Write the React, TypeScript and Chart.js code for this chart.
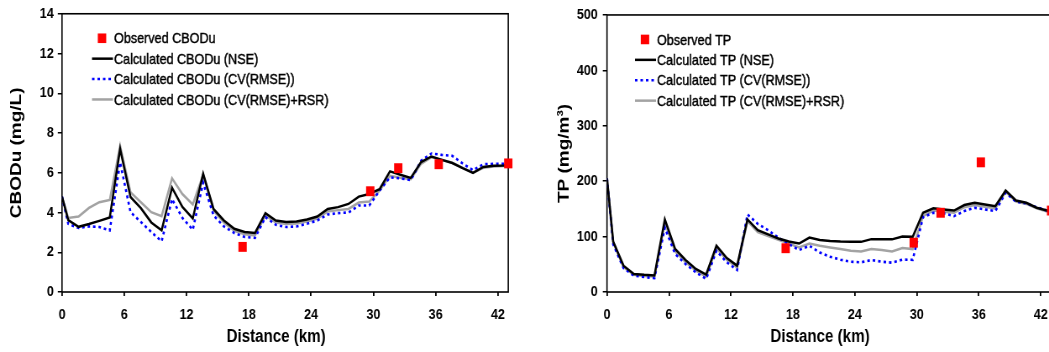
import React, { useEffect, useRef } from 'react';
import { Chart, registerables } from 'chart.js';
Chart.register(...registerables);

// Model node positions along the river (km)
const kmNodes = [0, 0.6, 1.6, 2.6, 3.6, 4.6, 5.6, 6.6, 7.6, 8.6, 9.6, 10.6, 11.6, 12.6, 13.6, 14.6, 15.6, 16.6, 17.6, 18.6, 19.6, 20.6, 21.6, 22.6, 23.6, 24.6, 25.6, 26.6, 27.6, 28.6, 29.6, 30.6, 31.6, 32.6, 33.6, 34.6, 35.6, 36.6, 37.6, 38.6, 39.6, 40.6, 41.6, 42.6, 43.0];
const xTicks = [0, 6, 12, 18, 24, 30, 36, 42];
const xTitle = 'Distance (km)';

// CBODu (mg/L)
const cbodNSE = [4.8, 3.62, 3.28, 3.42, 3.58, 3.75, 7.2, 4.78, 4.22, 3.5, 3.1, 5.25, 4.28, 3.7, 5.95, 4.18, 3.6, 3.18, 3.02, 2.97, 3.97, 3.6, 3.52, 3.55, 3.65, 3.8, 4.18, 4.27, 4.43, 4.8, 4.93, 5.17, 6.07, 5.9, 5.74, 6.54, 6.82, 6.65, 6.49, 6.23, 5.99, 6.29, 6.35, 6.36, 6.38];
const cbodCV = [4.8, 3.43, 3.22, 3.3, 3.27, 3.1, 6.52, 4.02, 3.52, 3.02, 2.55, 4.68, 3.73, 3.13, 5.5, 3.85, 3.3, 2.97, 2.77, 2.72, 3.77, 3.38, 3.27, 3.3, 3.43, 3.6, 3.9, 3.97, 4.0, 4.35, 4.35, 5.1, 5.77, 5.72, 5.63, 6.6, 6.97, 6.9, 6.85, 6.47, 6.13, 6.43, 6.45, 6.45, 6.45];
const cbodCVRSR = [4.8, 3.73, 3.8, 4.23, 4.52, 4.63, 7.35, 5.02, 4.52, 4.02, 3.82, 5.72, 4.93, 4.4, 5.9, 4.1, 3.5, 3.08, 2.9, 2.85, 3.85, 3.5, 3.42, 3.45, 3.55, 3.7, 4.05, 4.12, 4.18, 4.5, 4.55, 5.1, 5.85, 5.75, 5.68, 6.45, 6.78, 6.65, 6.5, 6.25, 6.0, 6.25, 6.32, 6.34, 6.35];
const cbodObsKm = [17.4, 29.7, 32.4, 36.3, 43.0];
const cbodObs = [2.27, 5.07, 6.23, 6.43, 6.47];
const cbodYTicks = [0, 2, 4, 6, 8, 10, 12, 14];

// TP (mg/m3)
const tpNSE = [205, 91, 47.5, 32.6, 31, 30, 131, 77.5, 57.7, 41.6, 31.4, 83.4, 61.3, 47.5, 131, 111.5, 104, 96.5, 91, 87.5, 98.3, 94, 92, 91, 90.5, 90.5, 95.4, 95, 95, 100, 99.5, 143, 151, 149, 147, 157, 161, 158, 155, 183, 165, 161, 152, 147, 145];
const tpCV = [205, 86, 43, 29.6, 27, 25, 116, 68.5, 50.6, 35.5, 23.7, 74.4, 53.5, 39.8, 140, 123, 111.5, 98, 86.5, 75.7, 83.4, 71.4, 63.7, 58.3, 54.7, 53.5, 57.7, 54.7, 53, 58.5, 58, 135, 143, 142, 137, 146, 152, 149, 146, 179, 163, 160, 153, 147, 145];
const tpCVRSR = [205, 89, 45, 31, 29, 28, 125, 73, 54, 38.5, 28, 79, 58, 44, 128, 108, 101, 94, 87.5, 80.4, 87.5, 83.4, 80.4, 77.5, 74.4, 73, 77.5, 76, 73, 79.5, 77.5, 137, 147, 145, 143, 153, 157, 154, 151, 181, 163, 159, 151, 145, 143];
const tpObsKm = [17.3, 29.7, 32.3, 36.2, 43.0];
const tpObs = [79, 89, 143, 234, 147];
const tpYTicks = [0, 100, 200, 300, 400, 500];

const FONT = "'Liberation Sans', Arial, sans-serif";
// The reference is horizontally compressed; canvases are drawn wider and shown narrower.
const SX = 0.84;

const toXY = (xs: number[], ys: number[]) => xs.map((x, i) => ({ x, y: ys[i] }));

const frameLegendPlugin = {
  id: 'frameLegend',
  beforeDatasetsDraw(chart: any) {
    const { ctx, chartArea: a } = chart;
    ctx.save();
    ctx.strokeStyle = '#000';
    ctx.lineWidth = 1.6;
    ctx.strokeRect(a.left, a.top, a.right - a.left, a.bottom - a.top);
    ctx.restore();
  },
  afterDraw(chart: any, _args: any, opts: any) {
    const { ctx, chartArea: a } = chart;
    ctx.save();
    // x-axis title (slightly left of centre as in the reference)
    ctx.font = `bold 18px ${FONT}`;
    ctx.textAlign = 'center';
    ctx.textBaseline = 'middle';
    ctx.fillStyle = '#000';
    ctx.fillText(opts.xTitle, (a.left + a.right) / 2 + opts.xTitleShift, opts.xTitleY);

    ctx.font = `15px ${FONT}`;
    ctx.textBaseline = 'middle';
    ctx.textAlign = 'left';
    chart.data.datasets.forEach((ds: any, i: number) => {
      const y = a.top + opts.rowTop + i * opts.rowGap;
      const x0 = a.left + opts.lineStart;
      const x1 = a.left + opts.lineEnd;
      if (ds.showLine === false) {
        ctx.fillStyle = ds.backgroundColor;
        ctx.fillRect(a.left + opts.marker - 5, y - 4.8, 10, 9.6);
      } else {
        ctx.beginPath();
        ctx.strokeStyle = ds.borderColor;
        ctx.lineWidth = ds.borderWidth;
        ctx.setLineDash(ds.borderDash || []);
        ctx.moveTo(x0, y);
        ctx.lineTo(x1, y);
        ctx.stroke();
        ctx.setLineDash([]);
      }
      ctx.fillStyle = '#000';
      ctx.strokeStyle = '#000';
      ctx.lineWidth = 0.45;
      ctx.fillText(ds.label, a.left + opts.textX, y + 1);
      ctx.strokeText(ds.label, a.left + opts.textX, y + 1);
    });
    ctx.restore();
  },
};

function makeConfig(p: any) {
  return {
    type: 'line',
    data: {
      datasets: [
        { label: p.obsLabel, data: toXY(p.obsKm, p.obs), showLine: false, pointStyle: 'rect', pointRadius: 7, pointHoverRadius: 7, backgroundColor: '#ff0000', borderColor: '#ff0000', borderWidth: 0, clip: false, order: 0 },
        { label: p.nseLabel, data: toXY(kmNodes, p.nse), borderColor: '#000000', borderWidth: 2.5, pointRadius: 0, tension: 0, order: 1 },
        { label: p.cvLabel, data: toXY(kmNodes, p.cv), borderColor: '#0000ff', borderWidth: 2.6, borderDash: [3, 3.5], pointRadius: 0, tension: 0, order: 2 },
        { label: p.rsrLabel, data: toXY(kmNodes, p.rsr), borderColor: '#a3a3a3', borderWidth: 2.5, pointRadius: 0, tension: 0, order: 3 },
      ],
    },
    options: {
      responsive: false,
      animation: false,
      events: [],
      layout: { padding: { left: 0, right: p.padRight, top: 12, bottom: 0 } },
      plugins: {
        legend: { display: false },
        tooltip: { enabled: false },
        frameLegend: {
          rowTop: 24.5, rowGap: 20.4, lineStart: p.lgLine0, lineEnd: p.lgLine1, marker: p.lgMarker, textX: p.lgText,
          xTitle, xTitleShift: p.xTitleShift, xTitleY: 337,
        },
      },
      scales: {
        x: {
          type: 'linear',
          min: 0,
          max: 43,
          afterFit: (s: any) => { s.height = 60; },
          afterBuildTicks: (s: any) => { s.ticks = xTicks.map((v) => ({ value: v })); },
          ticks: { includeBounds: false, color: '#000', padding: 10, font: { family: FONT, size: 15, weight: 'bold' } },
          grid: { display: true, drawOnChartArea: false, drawTicks: true, tickLength: 4, color: '#000', lineWidth: 1.8 },
          border: { display: false },
          title: { display: false },
        },
        y: {
          type: 'linear',
          min: 0,
          max: p.yMax,
          afterFit: (s: any) => { s.width = p.yWidth; },
          afterBuildTicks: (s: any) => { s.ticks = p.yTicks.map((v: number) => ({ value: v })); },
          ticks: { color: '#000', padding: p.yPad, font: { family: FONT, size: 15, weight: 'bold' } },
          grid: { display: true, drawOnChartArea: false, drawTicks: true, tickLength: 5, color: '#000', lineWidth: 1.5 },
          border: { display: false },
          title: { display: true, text: p.yTitle, color: '#000', font: { family: FONT, size: 19, weight: 'bold', lineHeight: 1.2 }, padding: { top: p.yTitlePad, bottom: 0 } },
        },
      },
    },
    plugins: [frameLegendPlugin],
  };
}

function ChartBox({ config, left, width }: { config: any; left: number; width: number }) {
  const ref = useRef<HTMLCanvasElement | null>(null);
  const drawWidth = Math.round(width / SX);
  useEffect(() => {
    const c = new Chart(ref.current as HTMLCanvasElement, config);
    return () => c.destroy();
  }, []);
  return (
    <canvas
      ref={ref}
      width={drawWidth}
      height={352}
      style={{ position: 'absolute', left, top: 0, width, height: 352, display: 'block' }}
    />
  );
}

// screen px -> drawing px (horizontal)
const h = (v: number) => v / SX;

export default function App() {
  const leftW = 530;
  const rightW = 540;
  const left = makeConfig({
    obsLabel: 'Observed CBODu',
    nseLabel: 'Calculated CBODu (NSE)',
    cvLabel: 'Calculated CBODu (CV(RMSE))',
    rsrLabel: 'Calculated CBODu (CV(RMSE)+RSR)',
    obsKm: cbodObsKm, obs: cbodObs, nse: cbodNSE, cv: cbodCV, rsr: cbodCVRSR,
    yMax: 14, yTicks: cbodYTicks, yTitle: 'CBODu (mg/L)',
    yWidth: h(62), yPad: h(4), yTitlePad: h(17) - 11.4, padRight: Math.round(leftW / SX) - h(508.3),
    lgLine0: h(30), lgLine1: h(51), lgMarker: h(40), lgText: h(52),
    xTitleShift: h(-9),
  });
  const right = makeConfig({
    obsLabel: 'Observed TP',
    nseLabel: 'Calculated TP (NSE)',
    cvLabel: 'Calculated TP (CV(RMSE))',
    rsrLabel: 'Calculated TP (CV(RMSE)+RSR)',
    obsKm: tpObsKm, obs: tpObs, nse: tpNSE, cv: tpCV, rsr: tpCVRSR,
    yMax: 500, yTicks: tpYTicks, yTitle: 'TP (mg/m³)',
    yWidth: h(77), yPad: h(5), yTitlePad: h(34) - 11.4, padRight: Math.round(rightW / SX) - h(521.2),
    lgLine0: h(28), lgLine1: h(49), lgMarker: h(38), lgText: h(50),
    xTitleShift: h(-9),
  });
  return (
    <div style={{ position: 'fixed', left: 0, top: 0, width: 1049, height: 352, overflow: 'hidden', background: '#fff' }}>
      <ChartBox config={left} left={0} width={leftW} />
      <ChartBox config={right} left={530} width={rightW} />
    </div>
  );
}
